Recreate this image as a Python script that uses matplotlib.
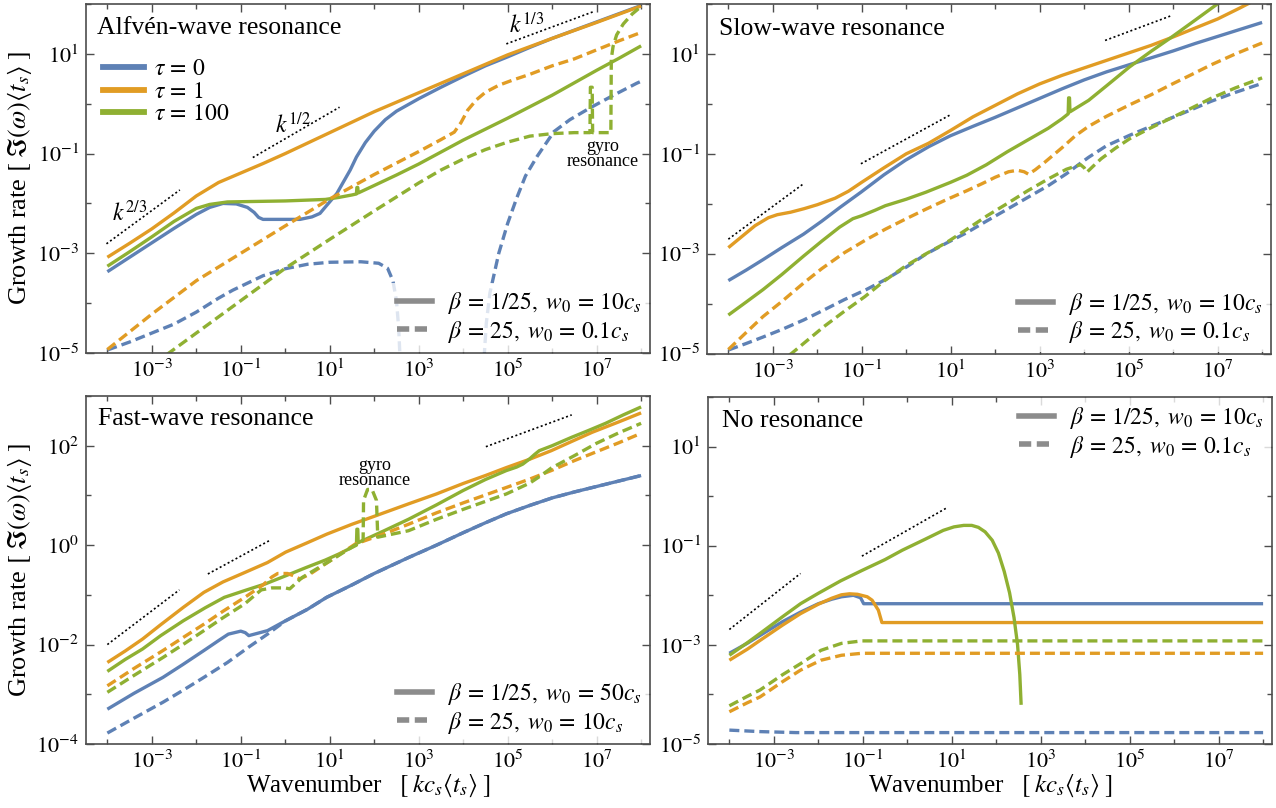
import numpy as np
import matplotlib
matplotlib.use("Agg")
import matplotlib.pyplot as plt
from matplotlib.lines import Line2D
from matplotlib.ticker import FixedLocator, FuncFormatter, NullFormatter

plt.rcParams['font.family'] = ['Liberation Serif', 'DejaVu Serif']
plt.rcParams['mathtext.fontset'] = 'stix'

BLUE = '#5e81b5'
ORANGE = '#e19c24'
GREEN = '#8fb032'
FRAME = '#4d4d4d'

# all values are (log10 k, log10 growth rate)

# --- Alfven-wave resonance (top left)
alf_blue_solid = [(-4, -3.37), (-3.5, -3.08), (-3, -2.79), (-2.5, -2.50), (-2, -2.22), (-1.7, -2.08),
                  (-1.4, -2.0), (-1.1, -2.01), (-0.85, -2.08), (-0.7, -2.18), (-0.6, -2.28), (-0.5, -2.32),
                  (0.33, -2.32), (0.6, -2.27), (0.78, -2.20), (0.95, -2.02), (1.16, -1.80), (1.3, -1.58),
                  (1.46, -1.33), (1.6, -1.07), (1.8, -0.78), (2.0, -0.55), (2.25, -0.32), (2.5, -0.15),
                  (3.0, 0.10), (3.5, 0.33), (4.0, 0.55), (4.5, 0.76), (5.0, 0.94), (5.5, 1.13), (6, 1.31),
                  (7, 1.64), (8, 1.97)]
alf_orange_solid = [(-4, -3.08), (-3.5, -2.80), (-3, -2.51), (-2.5, -2.19), (-2, -1.85), (-1.5, -1.58),
                    (-1, -1.39), (-0.5, -1.20), (0, -1.0), (0.5, -0.79), (1, -0.58), (1.5, -0.37), (2, -0.16),
                    (3, 0.22), (4, 0.60), (5, 0.98), (6, 1.31), (7, 1.63), (8, 1.96)]
alf_green_solid = [(-4, -3.26), (-3.5, -2.97), (-3, -2.67), (-2.5, -2.36), (-2, -2.10), (-1.7, -2.02),
                   (-1.3, -1.97), (0, -1.95), (0.9, -1.92), (1.2, -1.88), (1.5, -1.83), (1.6, -1.81),
                   (1.61, -1.68), (1.63, -1.68), (1.64, -1.79), (2.0, -1.64), (2.5, -1.43), (3.0, -1.21),
                   (3.5, -0.97), (4.0, -0.73), (4.5, -0.51), (5.0, -0.29), (5.5, -0.06), (6.0, 0.17),
                   (6.5, 0.42), (7, 0.67), (7.5, 0.91), (8, 1.16)]
alf_blue_dash_lo = [(-4, -4.94), (-3.5, -4.78), (-3, -4.60), (-2.5, -4.42), (-2, -4.18), (-1.5, -3.90),
                    (-1.18, -3.74), (-0.5, -3.45), (0, -3.31), (0.5, -3.22), (1, -3.18), (1.7, -3.17),
                    (2.1, -3.20), (2.3, -3.30), (2.42, -3.55), (2.5, -3.95), (2.55, -4.5), (2.58, -5.1)]
alf_blue_dash_hi = [(4.47, -5.1), (4.52, -4.4), (4.6, -3.8), (4.8, -3.0), (5.0, -2.4), (5.2, -1.9),
                    (5.4, -1.45), (5.66, -1.06), (6.04, -0.56), (6.4, -0.32), (6.86, -0.08), (7.4, 0.18),
                    (7.9, 0.41), (8.0, 0.45)]
alf_orange_dash = [(-4, -4.93), (-3, -4.22), (-2, -3.55), (-1, -3.0), (0, -2.45), (1, -1.91), (2, -1.42),
                   (3, -0.96), (3.5, -0.72), (3.8, -0.57), (3.95, -0.38), (4.1, -0.13), (4.3, 0.08),
                   (4.5, 0.23), (4.8, 0.37), (5.1, 0.47), (5.5, 0.59), (6.0, 0.76), (6.5, 0.90), (7, 1.08),
                   (7.5, 1.26), (8, 1.43)]
alf_green_dash = [(-4, -5.95), (-3, -5.25), (-2, -4.6), (-1, -3.95), (0, -3.30), (1, -2.72), (2, -2.15),
                  (3, -1.59), (3.5, -1.33), (4.0, -1.11), (4.5, -0.92), (5.0, -0.77), (5.5, -0.65),
                  (6.0, -0.60), (6.5, -0.58), (6.85, -0.58), (6.86, 0.33), (6.9, 0.33), (6.91, -0.58),
                  (7.32, -0.58), (7.33, 0.9), (7.37, 1.15), (7.45, 1.38), (7.6, 1.6), (7.8, 1.8), (8, 1.95)]
alf_refs = [[(-4.02, -2.81), (-2.37, -1.73)], [(-0.73, -1.08), (1.22, -0.07)], [(4.97, 1.20), (6.91, 1.84)]]

# --- Slow-wave resonance (top right)
slow_blue_solid = [(-4, -3.54), (-3.6, -3.33), (-3.22, -3.12), (-2.8, -2.88), (-2.31, -2.61), (-1.9, -2.35),
                   (-1.5, -2.08), (-1.02, -1.77), (-0.5, -1.42), (-0.02, -1.13), (0.5, -0.86), (0.99, -0.64),
                   (1.5, -0.45), (2.0, -0.27), (2.5, -0.08), (3.0, 0.11), (3.5, 0.30), (4.0, 0.48),
                   (4.5, 0.64), (5.0, 0.78), (5.5, 0.92), (6.0, 1.06), (6.5, 1.21), (7.0, 1.35), (7.5, 1.49),
                   (8.0, 1.63)]
slow_orange_solid = [(-4, -2.88), (-3.7, -2.66), (-3.4, -2.44), (-3.1, -2.28), (-2.9, -2.22), (-2.6, -2.17),
                     (-2.3, -2.10), (-2.0, -2.02), (-1.6, -1.89), (-1.3, -1.75), (-1.0, -1.57), (-0.5, -1.28),
                     (0, -1.0), (0.5, -0.79), (1.0, -0.53), (1.5, -0.26), (2.0, -0.03), (2.5, 0.20),
                     (3.0, 0.40), (3.5, 0.57), (4.0, 0.72), (4.5, 0.87), (5.0, 1.02), (5.5, 1.17),
                     (6.0, 1.34), (6.5, 1.52), (7.0, 1.70), (7.5, 1.92), (8.0, 2.15)]
slow_green_solid = [(-4, -4.23), (-3.6, -3.97), (-3.22, -3.72), (-2.8, -3.42), (-2.31, -3.05), (-1.9, -2.75),
                    (-1.5, -2.47), (-1.2, -2.30), (-1.0, -2.24), (-0.7, -2.13), (-0.47, -2.04), (0, -1.91),
                    (0.44, -1.77), (1.0, -1.57), (1.36, -1.43), (1.8, -1.22), (2.27, -0.96), (2.7, -0.74),
                    (3.19, -0.49), (3.5, -0.30), (3.64, -0.20), (3.65, 0.12), (3.67, 0.12), (3.68, -0.16),
                    (4.1, 0.07), (4.5, 0.36), (5.02, 0.74), (5.5, 1.05), (5.94, 1.32), (6.5, 1.68),
                    (7.04, 2.03), (7.5, 2.33)]
slow_blue_dash = [(-4, -4.93), (-3.6, -4.80), (-3.22, -4.67), (-2.8, -4.52), (-2.31, -4.33), (-1.9, -4.15),
                  (-1.39, -3.92), (-0.9, -3.72), (-0.47, -3.52), (0, -3.27), (0.44, -3.01), (0.9, -2.79),
                  (1.36, -2.58), (1.8, -2.35), (2.27, -2.11), (2.7, -1.89), (3.19, -1.64), (3.6, -1.40),
                  (3.9, -1.20), (4.10, -1.07), (4.5, -0.84), (5.02, -0.63), (5.5, -0.45), (5.94, -0.29),
                  (6.4, -0.12), (6.85, 0.05), (7.4, 0.23), (8, 0.41)]
slow_orange_dash = [(-4, -4.92), (-3.6, -4.58), (-3.22, -4.26), (-2.8, -3.96), (-2.31, -3.59), (-1.9, -3.30),
                    (-1.39, -2.98), (-0.9, -2.72), (-0.47, -2.51), (0, -2.30), (0.44, -2.11), (0.9, -1.92),
                    (1.36, -1.74), (1.7, -1.60), (2.0, -1.47), (2.3, -1.36), (2.5, -1.33), (2.65, -1.36),
                    (2.75, -1.41), (2.9, -1.32), (3.1, -1.18), (3.5, -0.88), (3.8, -0.64), (4.1, -0.45),
                    (4.5, -0.25), (5.02, -0.02), (5.5, 0.18), (5.94, 0.38), (6.4, 0.58), (6.85, 0.78),
                    (7.4, 1.00), (8, 1.22)]
slow_green_dash = [(-4, -5.9), (-3.2, -5.38), (-2.58, -5.0), (-1.85, -4.46), (-1.4, -4.16), (-0.93, -3.86),
                   (-0.5, -3.55), (-0.02, -3.25), (0.45, -3.0), (0.90, -2.78), (1.35, -2.52), (1.82, -2.24),
                   (2.3, -1.98), (2.73, -1.74), (3.2, -1.50), (3.6, -1.31), (3.8, -1.25), (3.92, -1.22),
                   (4.0, -1.28), (4.06, -1.37), (4.2, -1.25), (4.38, -1.10), (4.7, -0.89), (5.02, -0.70),
                   (5.5, -0.48), (5.94, -0.29), (6.4, -0.09), (6.85, 0.11), (7.4, 0.32), (8, 0.52)]
slow_refs = [[(-4, -2.71), (-2.31, -1.60)], [(-1.02, -1.20), (0.99, -0.22)], [(4.47, 1.27), (5.94, 1.76)]]

# --- Fast-wave resonance (bottom left)
fast_blue_solid = [(-4, -3.30), (-3.4, -2.98), (-2.75, -2.66), (-2.3, -2.40), (-1.83, -2.12), (-1.5, -1.92),
                   (-1.28, -1.79), (-1.0, -1.73), (-0.9, -1.76), (-0.82, -1.82), (-0.4, -1.72), (0.01, -1.52),
                   (0.5, -1.29), (0.93, -1.05), (1.5, -0.80), (2.0, -0.57), (2.77, -0.25), (3.4, 0.0),
                   (4.0, 0.25), (4.5, 0.45), (4.97, 0.63), (5.5, 0.80), (6.0, 0.95), (6.5, 1.07), (7.0, 1.18),
                   (7.5, 1.29), (8, 1.40)]
fast_orange_solid = [(-4, -2.36), (-3.6, -2.13), (-3.21, -1.89), (-2.8, -1.60), (-2.29, -1.25), (-1.83, -0.95),
                     (-1.4, -0.74), (-0.91, -0.55), (-0.4, -0.35), (0.01, -0.14), (0.5, 0.05), (0.93, 0.22),
                     (1.5, 0.42), (2.0, 0.58), (2.77, 0.83), (3.4, 1.03), (4.0, 1.24), (4.5, 1.40), (4.97, 1.56),
                     (5.5, 1.73), (5.98, 1.90), (6.45, 2.09), (6.90, 2.27), (7.5, 2.48), (8, 2.66)]
fast_green_solid = [(-4, -2.54), (-3.6, -2.30), (-3.21, -2.09), (-2.8, -1.82), (-2.29, -1.52), (-1.8, -1.26),
                    (-1.37, -1.05), (-0.9, -0.91), (-0.45, -0.78), (0.0, -0.62), (0.47, -0.45), (0.9, -0.30),
                    (1.2, -0.18), (1.6, 0.0), (1.61, 0.32), (1.63, 0.32), (1.64, 0.05), (2.2, 0.28),
                    (2.77, 0.52), (3.4, 0.81), (4.0, 1.10), (4.5, 1.32), (4.97, 1.50), (5.2, 1.57),
                    (5.34, 1.63), (5.5, 1.74), (5.6, 1.82), (5.71, 1.90), (6.0, 2.0), (6.44, 2.17),
                    (6.8, 2.30), (7.2, 2.45), (7.6, 2.62), (8, 2.78)]
fast_blue_dash = [(-4, -3.78), (-3.4, -3.48), (-2.75, -3.16), (-2.3, -2.92), (-1.83, -2.66), (-1.3, -2.36),
                  (-0.82, -2.05), (-0.4, -1.79), (0.01, -1.52), (0.5, -1.29), (0.93, -1.05), (1.5, -0.80),
                  (2.0, -0.57), (2.77, -0.25), (3.4, 0.0), (4.0, 0.25), (4.5, 0.45), (4.97, 0.63),
                  (5.5, 0.80), (6.0, 0.95), (6.5, 1.07), (7.0, 1.18), (7.5, 1.29), (8, 1.40)]
fast_orange_dash = [(-4, -2.83), (-3.4, -2.48), (-2.75, -2.12), (-2.3, -1.86), (-1.83, -1.59), (-1.4, -1.33),
                    (-0.91, -1.05), (-0.5, -0.80), (-0.3, -0.64), (-0.17, -0.57), (0.05, -0.57), (0.2, -0.62),
                    (0.33, -0.68), (0.56, -0.58), (1.0, -0.32), (1.57, 0.02), (2.2, 0.22), (2.77, 0.42),
                    (3.4, 0.65), (4.0, 0.85), (4.97, 1.16), (5.5, 1.33), (5.98, 1.50), (6.5, 1.70), (7.0, 1.88),
                    (7.5, 2.06), (8, 2.25)]
fast_green_dash = [(-4, -2.96), (-3.4, -2.62), (-2.75, -2.26), (-2.3, -2.00), (-1.83, -1.72), (-1.4, -1.46),
                   (-0.91, -1.18), (-0.7, -1.02), (-0.54, -0.90), (-0.3, -0.86), (0.0, -0.86), (0.1, -0.88),
                   (0.38, -0.65), (1.0, -0.32), (1.57, 0.0), (1.75, 0.1), (1.76, 0.9), (1.85, 1.12),
                   (1.95, 1.12), (2.05, 0.9), (2.08, 0.16), (2.77, 0.29), (3.4, 0.52), (4.0, 0.72),
                   (4.97, 1.03), (5.5, 1.25), (5.75, 1.40), (5.98, 1.55), (6.5, 1.80), (7, 2.05), (7.5, 2.26),
                   (8, 2.45)]
fast_refs = [[(-4, -2.0), (-2.38, -0.90)], [(-1.74, -0.58), (-0.36, 0.09)], [(4.51, 1.98), (6.44, 2.62)]]

# --- No resonance (bottom right)
none_blue_solid = [(-4, -3.17), (-3.6, -2.97), (-3.31, -2.81), (-2.8, -2.53), (-2.40, -2.34), (-2.0, -2.17),
                   (-1.7, -2.08), (-1.48, -2.03), (-1.21, -2.0), (-1.05, -2.05), (-0.98, -2.17), (8, -2.17)]
none_orange_solid = [(-4, -3.31), (-3.6, -3.09), (-3.31, -2.91), (-2.8, -2.60), (-2.40, -2.37), (-2.0, -2.18),
                     (-1.7, -2.06), (-1.48, -1.99), (-1.3, -1.97), (-1.12, -1.98), (-0.9, -2.03),
                     (-0.79, -2.10), (-0.65, -2.30), (-0.57, -2.55), (8, -2.55)]
none_green_solid = [(-4, -3.21), (-3.6, -2.96), (-3.31, -2.77), (-2.8, -2.43), (-2.40, -2.17), (-2.0, -1.96),
                    (-1.5, -1.71), (-1.02, -1.50), (-0.5, -1.28), (-0.11, -1.09), (0.4, -0.87), (0.81, -0.69),
                    (1.05, -0.62), (1.27, -0.59), (1.45, -0.59), (1.6, -0.63), (1.75, -0.72), (1.91, -0.89),
                    (2.05, -1.15), (2.18, -1.52), (2.3, -1.95), (2.4, -2.45), (2.48, -3.0), (2.53, -3.6),
                    (2.56, -4.21)]
none_blue_dash = [(-4, -4.72), (-3.31, -4.75), (-2.5, -4.77), (8, -4.77)]
none_orange_dash = [(-4, -4.35), (-3.6, -4.17), (-3.31, -4.05), (-2.8, -3.74), (-2.40, -3.51), (-1.94, -3.31),
                    (-1.48, -3.21), (-1.02, -3.17), (8, -3.17)]
none_green_dash = [(-4, -4.23), (-3.6, -4.04), (-3.31, -3.91), (-2.8, -3.60), (-2.40, -3.38), (-1.94, -3.11),
                   (-1.48, -2.97), (-1.02, -2.92), (8, -2.92)]
none_refs = [[(-4, -2.69), (-2.40, -1.56)], [(-1.02, -1.21), (0.90, -0.23)]]

titles = ['Alfvén-wave resonance', 'Slow-wave resonance', 'Fast-wave resonance', 'No resonance']
tau_labels = [r'$\tau\,=\,0$', r'$\tau\,=\,1$', r'$\tau\,=\,100$']
beta_labels_a = [r'$\beta\,=\,1/25,\;w_0\,=\,10c_s$', r'$\beta\,=\,25,\;w_0\,=\,0.1c_s$']
beta_labels_b = [r'$\beta\,=\,1/25,\;w_0\,=\,50c_s$', r'$\beta\,=\,25,\;w_0\,=\,10c_s$']


def curve(ax, pts, color, dashed=False):
    k = [10.0 ** p[0] for p in pts]
    g = [10.0 ** p[1] for p in pts]
    if dashed:
        ax.plot(k, g, color=color, lw=2.4, ls=(0, (3.0, 1.5)), dash_capstyle='butt')
    else:
        ax.plot(k, g, color=color, lw=2.4, solid_capstyle='butt')


def refs(ax, lines):
    for seg in lines:
        ax.plot([10.0 ** p[0] for p in seg], [10.0 ** p[1] for p in seg],
                color='black', lw=1.2, ls=(0, (1.2, 1.5)))


def setup(ax, ylo, yhi, ylab):
    ax.set_xscale('log')
    ax.set_yscale('log')
    ax.set_xlim(10 ** -4.48, 10 ** 8.2)
    ax.set_ylim(10.0 ** ylo, 10.0 ** yhi)
    fmt = FuncFormatter(lambda v, p: r'$10^{%d}$' % round(np.log10(v)))
    ax.xaxis.set_major_locator(FixedLocator([10.0 ** e for e in (-3, -1, 1, 3, 5, 7)]))
    ax.xaxis.set_minor_locator(FixedLocator([10.0 ** e for e in (-4, -2, 0, 2, 4, 6, 8)]))
    ax.yaxis.set_major_locator(FixedLocator([10.0 ** e for e in ylab]))
    ax.yaxis.set_minor_locator(FixedLocator([10.0 ** e for e in range(ylo, yhi + 1) if e not in ylab]))
    ax.xaxis.set_major_formatter(fmt)
    ax.yaxis.set_major_formatter(fmt)
    ax.xaxis.set_minor_formatter(NullFormatter())
    ax.yaxis.set_minor_formatter(NullFormatter())
    ax.tick_params(which='both', direction='in', top=True, right=True, color=FRAME,
                   labelsize=16, width=1.0)
    ax.tick_params(which='major', length=6, pad=5)
    ax.tick_params(which='minor', length=3.5)
    for s in ax.spines.values():
        s.set_color(FRAME)
        s.set_linewidth(1.2)


def beta_legend(ax, labels, loc, anchor):
    hs = [Line2D([], [], color='#8c8c8c', lw=4),
          Line2D([], [], color='#8c8c8c', lw=4, ls=(0, (2.2, 1.0)))]
    leg = ax.legend(hs, labels, loc=loc, bbox_to_anchor=anchor, fontsize=17, frameon=True,
                    framealpha=0.8, facecolor='white', edgecolor='none', fancybox=False,
                    handlelength=1.45, handletextpad=0.7, labelspacing=0.1, borderpad=0.3,
                    borderaxespad=0.05)
    return leg


fig = plt.figure(figsize=(12.76, 8.08), dpi=100)
W, H = 1276.0, 808.0
ax_tl = fig.add_axes([86 / W, 1 - 353 / H, 564 / W, 349 / H])
ax_tr = fig.add_axes([707 / W, 1 - 353.5 / H, 564 / W, 349.5 / H])
ax_bl = fig.add_axes([86 / W, 1 - 744 / H, 564 / W, 348 / H])
ax_br = fig.add_axes([708 / W, 1 - 744 / H, 564 / W, 347 / H])

panels = [
    (ax_tl, -5, 2, (-5, -3, -1, 1),
     [alf_blue_solid, alf_orange_solid, alf_green_solid],
     [alf_blue_dash_lo, alf_blue_dash_hi, alf_orange_dash, alf_green_dash],
     [BLUE, BLUE, ORANGE, GREEN], alf_refs),
    (ax_tr, -5, 2, (-5, -3, -1, 1),
     [slow_blue_solid, slow_orange_solid, slow_green_solid],
     [slow_blue_dash, slow_orange_dash, slow_green_dash],
     [BLUE, ORANGE, GREEN], slow_refs),
    (ax_bl, -4, 3, (-4, -2, 0, 2),
     [fast_blue_solid, fast_orange_solid, fast_green_solid],
     [fast_blue_dash, fast_orange_dash, fast_green_dash],
     [BLUE, ORANGE, GREEN], fast_refs),
    (ax_br, -5, 2, (-5, -3, -1, 1),
     [none_blue_solid, none_orange_solid, none_green_solid],
     [none_blue_dash, none_orange_dash, none_green_dash],
     [BLUE, ORANGE, GREEN], none_refs),
]

title_pos = [(0.019, 0.914), (0.022, 0.911), (0.021, 0.917), (0.024, 0.914)]

for i, (ax, ylo, yhi, ylab, solids, dashes, dcols, rl) in enumerate(panels):
    setup(ax, ylo, yhi, ylab)
    for pts, c in zip(solids, [BLUE, ORANGE, GREEN]):
        curve(ax, pts, c)
    for pts, c in zip(dashes, dcols):
        curve(ax, pts, c, dashed=True)
    refs(ax, rl)
    ax.text(title_pos[i][0], title_pos[i][1], titles[i], transform=ax.transAxes,
            fontsize=18.5, va='baseline', ha='left')

# tau legend
tau_h = [Line2D([], [], color=c, lw=4.2) for c in (BLUE, ORANGE, GREEN)]
leg_tau = ax_tl.legend(tau_h, tau_labels, loc='upper left', bbox_to_anchor=(0.0, 0.89), fontsize=17,
                       frameon=False, handlelength=1.75, handletextpad=0.45, labelspacing=0.04,
                       borderaxespad=0.3)
ax_tl.add_artist(leg_tau)

beta_legend(ax_tl, beta_labels_a, 'lower right', (1.0, 0.0))
beta_legend(ax_tr, beta_labels_a, 'lower right', (1.0, 0.0))
beta_legend(ax_bl, beta_labels_b, 'lower right', (1.0, 0.0))
beta_legend(ax_br, beta_labels_a, 'upper right', (1.0, 1.0))

# power-law labels and annotations
ax_tl.text(10 ** -3.5, 10 ** -2.19, r'$k^{2/3}$', fontsize=17, ha='center', va='center')
ax_tl.text(10 ** 0.17, 10 ** -0.43, r'$k^{1/2}$', fontsize=17, ha='center', va='center')
ax_tl.text(10 ** 5.44, 10 ** 1.58, r'$k^{1/3}$', fontsize=17, ha='center', va='center')
ax_tl.text(10 ** 7.13, 10 ** -1.01, 'gyro\nresonance', fontsize=13, ha='center', va='center',
           linespacing=0.85)
ax_bl.text(10 ** 2.02, 10 ** 1.45, 'gyro\nresonance', fontsize=13, ha='center', va='center',
           linespacing=0.85)

ylab = r'Growth rate $[\;\Im(\omega)\langle t_s\rangle\;]$'
xlab = r'Wavenumber   $[\;k c_s\langle t_s\rangle\;]$'
for ax in (ax_tl, ax_bl):
    ax.set_ylabel(ylab, fontsize=19)
    ax.yaxis.set_label_coords(-0.092, 0.5)
for ax in (ax_bl, ax_br):
    ax.set_xlabel(xlab, fontsize=18)
    ax.xaxis.set_label_coords(0.5, -0.082)

fig.savefig('out.png', dpi=100)
